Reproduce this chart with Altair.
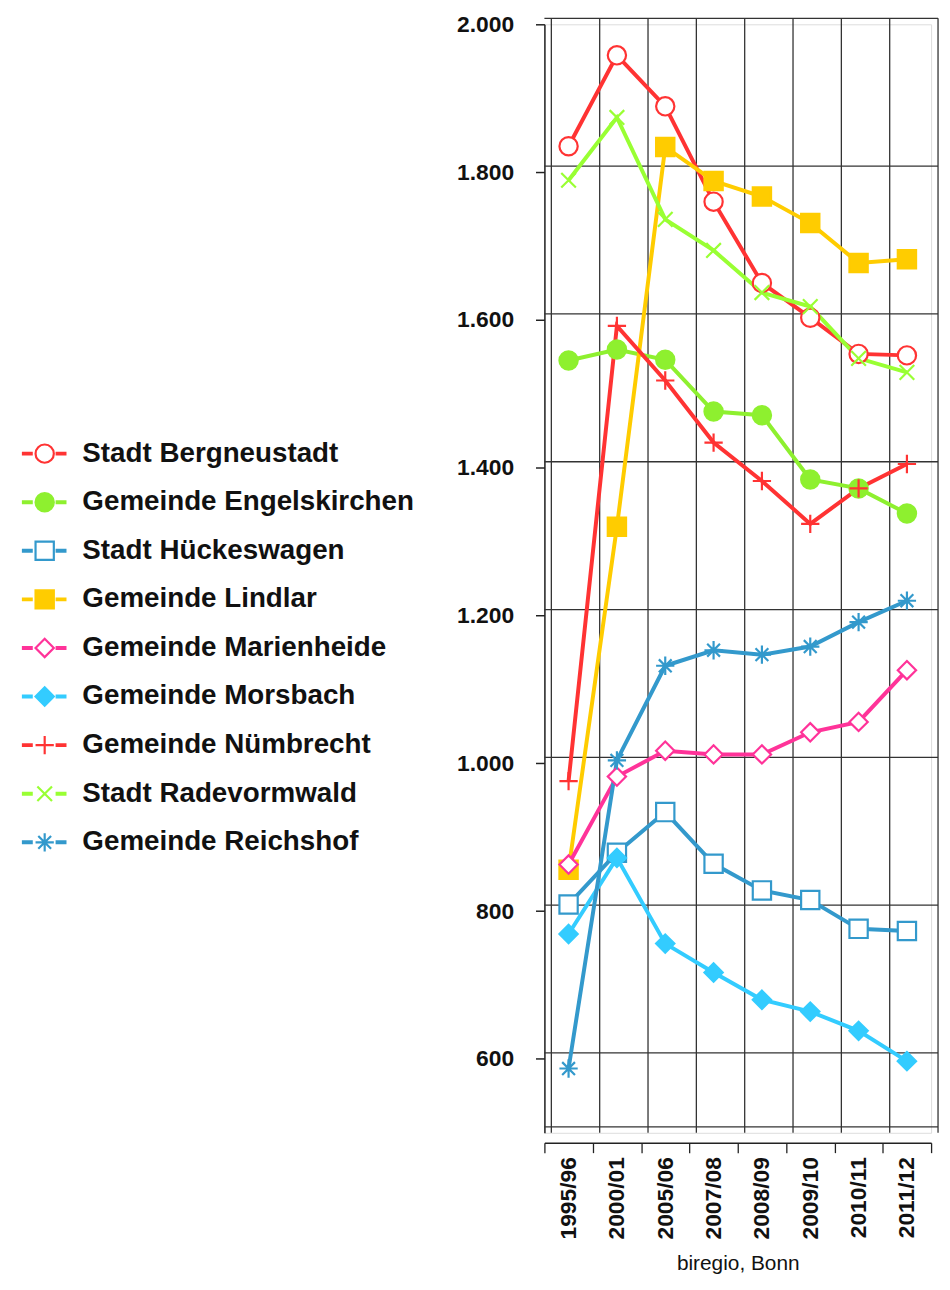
import altair as alt
import pandas as pd

years = ["1995/96", "2000/01", "2005/06", "2007/08", "2008/09", "2009/10", "2010/11", "2011/12"]

series_names = [
    "Stadt Bergneustadt", "Gemeinde Engelskirchen", "Stadt Hückeswagen",
    "Gemeinde Lindlar", "Gemeinde Marienheide", "Gemeinde Morsbach",
    "Gemeinde Nümbrecht", "Stadt Radevormwald", "Gemeinde Reichshof",
]

bergneustadt = [1835, 1958, 1889, 1760, 1650, 1603, 1554, 1552]
engelskirchen = [1545, 1560, 1546, 1476, 1471, 1384, 1372, 1338]
hueckeswagen = [809, 879, 934, 864, 828, 815, 776, 773]
lindlar = [856, 1320, 1834, 1788, 1767, 1731, 1677, 1682]
marienheide = [863, 982, 1017, 1012, 1012, 1042, 1056, 1126]
morsbach = [769, 872, 756, 717, 680, 664, 638, 597]
nuembrecht = [976, 1592, 1518, 1434, 1382, 1324, 1372, 1405]
radevormwald = [1789, 1874, 1736, 1694, 1637, 1618, 1548, 1529]
reichshof = [587, 1004, 1132, 1153, 1147, 1158, 1191, 1220]

all_values = [bergneustadt, engelskirchen, hueckeswagen, lindlar, marienheide,
              morsbach, nuembrecht, radevormwald, reichshof]

y_ticks = [600, 800, 1000, 1200, 1400, 1600, 1800, 2000]
grid_levels = [500, 600, 800, 1000, 1200, 1400, 1600, 1800, 2000]

# styles
colors = ["#ff3333", "#8ef02f", "#3399cc", "#ffcc00", "#ff3399", "#33ccff", "#ff3333", "#99ff33", "#3399cc"]
fills = ["white", "#8ef02f", "white", "#ffcc00", "white", "#33ccff", "white", "white", "white"]
PLUS = "M-1,0H1M0,-1V1"
XSHAPE = "M-0.8,-0.8L0.8,0.8M-0.8,0.8L0.8,-0.8"
ASTER = "M-1,0H1M0,-1V1M-0.7,-0.7L0.7,0.7M-0.7,0.7L0.7,-0.7"
shapes = ["circle", "circle", "square", "square", "diamond", "diamond", PLUS, XSHAPE, ASTER]
keys = [str(i + 1) for i in range(len(series_names))]

rows = []
for name, key, vals in zip(series_names, keys, all_values):
    for yr, v in zip(years, vals):
        rows.append({"series": name, "key": key, "year": yr, "value": v})
df = pd.DataFrame(rows)

grid_df = pd.DataFrame({"g": grid_levels})
vgrid_df = pd.DataFrame({"year": years})
vlast_df = pd.DataFrame({"year": [years[-1]]})

FONT = "Liberation Sans"

x_scale = alt.Scale(type="band", domain=years, paddingInner=0, paddingOuter=0)
y_scale = alt.Scale(domain=[500, 2000], nice=False, zero=False)

x_axis = alt.Axis(
    title="biregio, Bonn", titleFont=FONT, titleFontSize=21, titleFontWeight="normal",
    titleColor="#111", titlePadding=14,
    labelAngle=-90, labelFont=FONT, labelFontSize=23, labelFontWeight="bold",
    labelColor="#111", labelPadding=4, tickBand="extent", tickSize=10,
    tickColor="#222", domainColor="#222", domainWidth=1.5, tickWidth=1.3,
    offset=10, grid=False,
)
y_axis = alt.Axis(
    title=None, values=y_ticks,
    labelExpr="replace(format(datum.value, ','), ',', '.')",
    labelFont=FONT, labelFontSize=23, labelFontWeight="bold", labelColor="#111",
    labelPadding=22, tickSize=9, tickColor="#222", tickWidth=1.5,
    domainColor="#222", domainWidth=1.5, grid=False,
)

X = alt.X("year:N", sort=years, scale=x_scale, axis=x_axis)
Y = alt.Y("value:Q", scale=y_scale, axis=y_axis)

hgrid = alt.Chart(grid_df).mark_rule(color="#333", strokeWidth=1.3, xOffset=7, yOffset=-6).encode(
    y=alt.Y("g:Q", scale=y_scale, axis=y_axis)
)
vgrid = alt.Chart(vgrid_df).mark_rule(color="#333", strokeWidth=1.3, xOffset=7, yOffset=-6).encode(
    x=alt.X("year:N", sort=years, scale=x_scale, axis=x_axis, bandPosition=0)
)
vlast = alt.Chart(vlast_df).mark_rule(color="#333", strokeWidth=1.3, xOffset=7, yOffset=-6).encode(
    x=alt.X("year:N", sort=years, scale=x_scale, axis=x_axis, bandPosition=1)
)

legend_common = dict(
    orient="none", title=None, direction="vertical",
    labelFont=FONT, labelFontSize=28, labelFontWeight="bold", labelColor="#111",
    labelLimit=0, rowPadding=5, clipHeight=44, legendY=411,
)
legend1 = alt.Legend(
    legendX=-529, symbolType="stroke", symbolSize=2025, symbolStrokeWidth=4,
    symbolDash=[11, 23], labelOffset=14, **legend_common,
)
legend2 = alt.Legend(
    legendX=-518, symbolSize=340, symbolStrokeWidth=2.2, labelExpr="''",
    labelOffset=14, **legend_common,
)

lines = alt.Chart(df).mark_line(strokeWidth=4).encode(
    x=X, y=Y,
    color=alt.Color("series:N", scale=alt.Scale(domain=series_names, range=colors), legend=legend1),
)

points = alt.Chart(df).mark_point(size=340, strokeWidth=2.2, opacity=1, filled=False).encode(
    x=X, y=Y,
    shape=alt.Shape("key:N", scale=alt.Scale(domain=keys, range=shapes), legend=legend2),
    stroke=alt.Stroke("key:N", scale=alt.Scale(domain=keys, range=colors), legend=legend2),
    fill=alt.Fill("key:N", scale=alt.Scale(domain=keys, range=fills), legend=legend2),
)

chart = alt.layer(hgrid, vgrid, vlast, lines, points).resolve_scale(
    color="independent"
).properties(
    width=390, height=1118,
    autosize=alt.AutoSizeParams(type="none"),
    padding={"left": 541, "top": 11, "right": 11, "bottom": 142},
).configure_view(stroke=None).configure(background="white")

chart.save("out.html", embed_options={"renderer": "svg", "actions": False})
